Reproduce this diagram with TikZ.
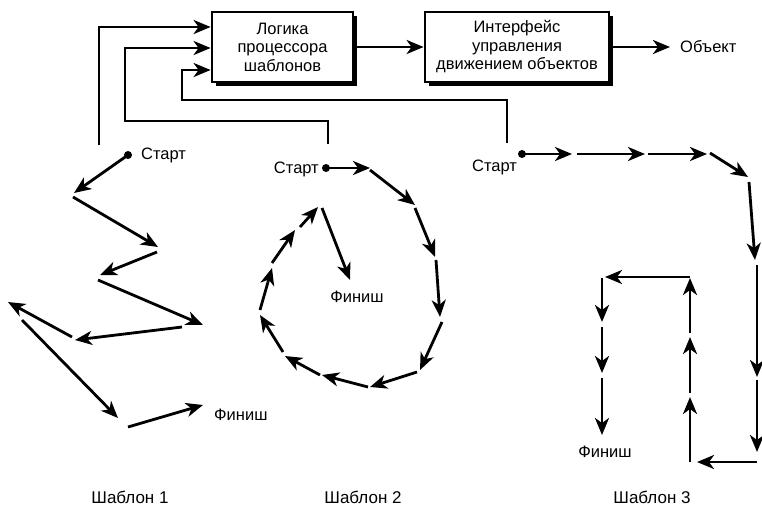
\documentclass[tikz,border=0pt]{standalone}
\usepackage{fontspec}
\setmainfont{Liberation Sans}
\usetikzlibrary{arrows.meta}
\begin{document}
\begin{tikzpicture}[x=1pt,y=-1pt,
  arr/.style={line width=2.8pt,-{Stealth[length=17pt,width=14pt,inset=5pt]}},
  blockbox/.style={draw,line width=2.8pt,fill=white,minimum width=141pt,minimum height=70pt,
    align=center,inner sep=0pt,font=\fontsize{16.5}{18.5}\selectfont},
  label/.style={inner sep=0pt,font=\fontsize{16.5}{18}\selectfont},
  caption/.style={inner sep=0pt,anchor=base,font=\fontsize{17}{19}\selectfont},
  startdot/.style={circle,fill=black,inner sep=0pt,minimum size=8pt}]
\useasboundingbox (0,0) rectangle (762,509);

% processing blocks with drop shadows
\fill (216,16) rectangle (357,86);
\fill (429,16) rectangle (613,86);
\node[blockbox] (logic) at (282.5,47) {Логика\\процессора\\шаблонов};
\node[blockbox,minimum width=184pt] (iface) at (517,47) {Интерфейс\\управления\\движением объектов};
\node[label,anchor=west] (obj) at (680,47) {Объект};
\draw[arr] (logic.east) -- (iface.west);
\draw[arr,shorten >=10pt] (iface.east) -- (obj.west);

% feedback lines from the three patterns
\coordinate (f1) at (99,145);
\coordinate (f2) at (328,144);
\coordinate (f3) at (507,143);
\draw[arr] (f1) |- (logic.west |- 0,27);
\draw[arr] (f2) -- (328,121) -- (125,121) |- (logic.west |- 0,48);
\draw[arr] (f3) -- (507,100) -- (182,100) |- (logic.west |- 0,70);

% pattern 1: zigzag
\node[startdot] (s1) at (128,155) {};
\node[label,anchor=west] at (141,155) {Старт};
\draw[arr] (s1.center) -- (74,193);
\foreach \xa/\ya/\xb/\yb in {73/197/158/247, 157/252/100/275, 98/280/203/325,
  182/327/75/340, 72/337/8/302, 22/320/118/418, 128/427/203/405}
  \draw[arr] (\xa,\ya) -- (\xb,\yb);
\node[label,anchor=west] at (214,415) {Финиш};

% pattern 2: spiral
\node[startdot] (s2) at (326,168) {};
\node[label,anchor=east] at (319,169) {Старт};
\draw[arr] (s2.center) -- (370,168);
\foreach \xa/\ya/\xb/\yb in {370/170/415/205, 415/208/435/257, 436/260/440/317,
  442/322/420/370, 417/372/370/387, 368/387/322/375, 320/375/285/356,
  283/352/260/315, 260/310/272/268, 272/263/295/230, 300/227/318/207,
  322/208/350/280}
  \draw[arr] (\xa,\ya) -- (\xb,\yb);
\node[label] at (357,297) {Финиш};

% pattern 3: rectangular meander
\node[startdot] (s3) at (522,154) {};
\node[label,anchor=west] at (472,167) {Старт};
\draw[arr] (s3.center) -- (572,154);
\foreach \xa/\ya/\xb/\yb in {577/154/645/154, 648/154/707/154, 710/153/748/177,
  749/182/755/260, 757/265/757/377, 757/380/757/452, 757/462/697/462,
  690/462/690/397, 690/393/690/337, 690/333/690/278, 690/277/605/277,
  602/278/602/322, 602/327/602/373, 602/378/602/435}
  \draw[arr] (\xa,\ya) -- (\xb,\yb);
\node[label] at (605,452) {Финиш};

% captions
\node[caption] at (130,503) {Шаблон 1};
\node[caption] at (363,503) {Шаблон 2};
\node[caption] at (652,503) {Шаблон 3};
\end{tikzpicture}
\end{document}
